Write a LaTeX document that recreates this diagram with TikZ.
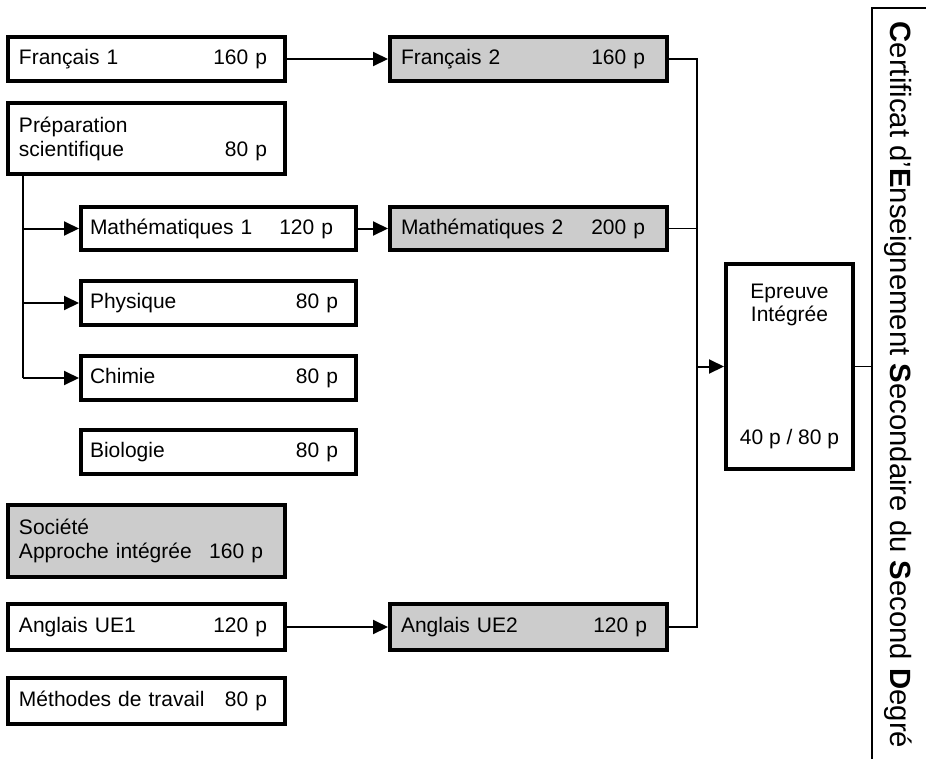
\documentclass[tikz,border=0pt]{standalone}
\usepackage{fontspec}
\setmainfont{Liberation Sans}
\usetikzlibrary{arrows.meta}
\definecolor{boxgray}{RGB}{204,204,204}
\begin{document}
\begin{tikzpicture}[x=1pt,y=1pt,
  box/.style={draw, line width=4pt, rectangle, inner ysep=0pt, inner xsep=11pt,
    text width=255pt, align=left, minimum width=277pt, minimum height=44pt,
    font=\fontsize{21}{24}\selectfont},
  subbox/.style={box, inner xsep=9pt, text width=257pt, minimum width=275pt},
  graybox/.style={box, fill=boxgray},
  conn/.style={line width=1.8pt},
  arr/.style={line width=2pt, -{Triangle[length=15pt,width=14pt]}},
  rline/.style={line width=1.3pt}]
\useasboundingbox (0,0) rectangle (926,-758);
\clip (0,0) rectangle (926,-758);
% left column
\node[box] (f1) at (146.5,-59) {Français 1\hfill 160 p\kern7pt};
\node[box, minimum height=71pt] (prep) at (146.5,-138.5) {Préparation\\scientifique\hfill 80 p\kern7pt};
\node[subbox, minimum height=43pt] (m1) at (218.5,-228.5) {Mathématiques 1\hfill 120 p\kern14pt};
\node[subbox] (phy) at (218.5,-303) {Physique\hfill 80 p\kern9pt};
\node[subbox] (chi) at (218.5,-378) {Chimie\hfill 80 p\kern9pt};
\node[subbox] (bio) at (218.5,-452) {Biologie\hfill 80 p\kern9pt};
\node[graybox, minimum height=72pt] (soc) at (146.5,-541) {Société\\Approche intégrée\hfill 160 p\kern11pt};
\node[box, minimum height=46pt] (a1) at (146.5,-627) {Anglais UE1\hfill 120 p\kern7pt};
\node[box, minimum height=46pt] (meth) at (146.5,-701) {Méthodes de travail\hfill 80 p\kern7pt};
% right column
\node[graybox] (f2) at (528.5,-59) {Français 2\hfill 160 p\kern11pt};
\node[graybox, minimum height=43pt] (m2) at (528.5,-228.5) {Mathématiques 2\hfill 200 p\kern11pt};
\node[graybox, minimum height=46pt] (a2) at (528.5,-627) {Anglais UE2\hfill 120 p\kern9pt};
% final box
\node[draw, line width=4pt, rectangle, inner sep=0pt, minimum width=127pt, minimum height=205pt,
  align=center, font=\fontsize{21}{22.5}\selectfont] (ep) at (789.5,-366.5)
  {Epreuve\\Intégrée\\[101pt]40 p / 80 p};
% certificate text
\node[rotate=-90, anchor=base, inner sep=0pt, font=\fontsize{29.3}{32}\selectfont] (cert) at (890,-385)
  {{\bfseries C}ertificat d’{\bfseries E}nseignement {\bfseries S}econdaire du {\bfseries S}econd {\bfseries D}egré};
% connectors
\draw[arr] (f1.east) -- (f2.west);
\draw[arr] (m1.east) -- (m2.west);
\draw[arr] (a1.east) -- (a2.west);
\coordinate (tx) at (23,0);
\draw[line width=2pt] (prep.south -| tx) -- (chi.west -| tx);
\draw[arr] (m1.west -| tx) -- (m1.west);
\draw[arr] (phy.west -| tx) -- (phy.west);
\draw[arr] (chi.west -| tx) -- (chi.west);
\coordinate (cx) at (697,0);
\draw[conn] (f2.east) -- (f2.east -| cx) -- (a2.east -| cx) -- (a2.east);
\draw[conn] (m2.east) -- (m2.east -| cx);
\draw[arr] (ep.west -| cx) -- (ep.west);
\coordinate (rb) at (872,-8);
\coordinate (rbb) at (872,-770);
\coordinate (rbr) at (940,-8);
\draw[conn] (ep.east) -- (ep.east -| rb);
\draw[rline] (rbb) -- (rb) -- (rbr);
\end{tikzpicture}
\end{document}
